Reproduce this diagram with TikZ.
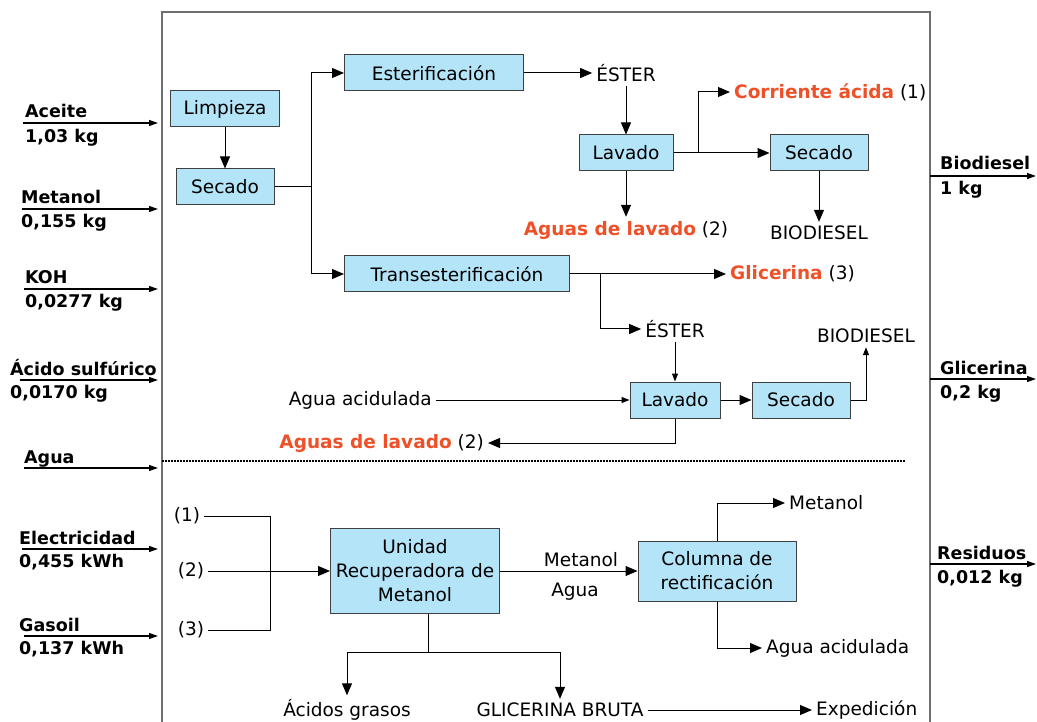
\documentclass[tikz,border=0pt]{standalone}
\usepackage{fontspec}
\setmainfont{DejaVu Sans}
\usetikzlibrary{arrows.meta,positioning}
\definecolor{boxblue}{RGB}{180,228,248}
\definecolor{acidred}{RGB}{238,80,40}
\definecolor{framegray}{RGB}{110,110,110}
\newcommand{\hot}[1]{\textcolor{acidred}{\bfseries #1}}

\begin{document}
\begin{tikzpicture}[x=1pt,y=-1pt,
    font=\fontsize{18.5}{24}\selectfont,
    proc/.style={draw=black!75,fill=boxblue,minimum height=36,inner sep=2,line width=1},
    flow/.style={-{Triangle[length=12,width=10]},line width=1},
    flowsmall/.style={-{Triangle[length=8,width=6]},line width=1},
    feed/.style={-{Triangle[length=9,width=6]},line width=1.2},
    lbl/.style={inner sep=4},
    side/.style={font=\fontsize{17.5}{20}\selectfont\bfseries,inner sep=0}]
  \useasboundingbox (0,0) rectangle (1037,722);

  % frame and separation
  \draw[framegray,line width=1.5] (162,722) -- (162,12) -- (930,12) -- (930,722);
  \draw[line width=1.5,dash pattern=on 1.5 off 1.5] (162,461) -- (906,461);

  % inputs
  \coordinate (aceA) at (23,123);   \coordinate (aceB) at (158,123);
  \coordinate (metA) at (22,209);   \coordinate (metB) at (158,209);
  \coordinate (kohA) at (24,289);   \coordinate (kohB) at (158,289);
  \coordinate (acsA) at (20,380);   \coordinate (acsB) at (158,380);
  \coordinate (aguA) at (24,468);   \coordinate (aguB) at (158,468);
  \coordinate (eleA) at (22,549);   \coordinate (eleB) at (158,549);
  \coordinate (gasA) at (24,636);   \coordinate (gasB) at (158,636);
  \draw[feed] (aceA) -- (aceB);
  \draw[feed] (metA) -- (metB);
  \draw[feed] (kohA) -- (kohB);
  \draw[feed] (acsA) -- (acsB);
  \draw[feed] (aguA) -- (aguB);
  \draw[feed] (eleA) -- (eleB);
  \draw[feed] (gasA) -- (gasB);
  \node[side,anchor=base west] (aceT) at (25,118) {Aceite};
  \node[side,anchor=north west] (aceV) at (25,129) {1,03 kg};
  \node[side,anchor=base west] (metT) at (21,204) {Metanol};
  \node[side,anchor=north west] (metV) at (21,214) {0,155 kg};
  \node[side,anchor=base west] (kohT) at (25,284) {KOH};
  \node[side,anchor=north west] (kohV) at (25,294) {0,0277 kg};
  \node[side,anchor=base west] (acsT) at (10,375) {Ácido sulfúrico};
  \node[side,anchor=north west] (acsV) at (10,385) {0,0170 kg};
  \node[side,anchor=base west] (aguT) at (24,463) {Agua};
  \node[side,anchor=base west] (eleT) at (19,544) {Electricidad};
  \node[side,anchor=north west] (eleV) at (19,554) {0,455 kWh};
  \node[side,anchor=base west] (gasT) at (19,631) {Gasoil};
  \node[side,anchor=north west] (gasV) at (19,641) {0,137 kWh};

  % outputs
  \coordinate (bioA) at (930,176);  \coordinate (bioB) at (1036,176);
  \coordinate (glA) at (930,379);   \coordinate (glB) at (1036,379);
  \coordinate (resA) at (930,564);  \coordinate (resB) at (1036,564);
  \draw[feed] (bioA) -- (bioB);
  \draw[feed] (glA) -- (glB);
  \draw[feed] (resA) -- (resB);
  \node[side,anchor=base west] (bioT) at (940,170) {Biodiesel};
  \node[side,anchor=north west] (bioV) at (940,181) {1 kg};
  \node[side,anchor=base west] (glT) at (940,374) {Glicerina};
  \node[side,anchor=north west] (glV) at (940,385) {0,2 kg};
  \node[side,anchor=base west] (resT) at (937,559) {Residuos};
  \node[side,anchor=north west] (resV) at (937,570) {0,012 kg};

  % process boxes
  \node[proc,minimum width=109] (limp) at (225,109) {Limpieza};
  \node[proc,minimum width=98] (sec1) at (225,187) {Secado};
  \node[proc,minimum width=179] (ester) at (434,73) {Esterificación};
  \node[proc,minimum width=94] (lav1) at (626,153) {Lavado};
  \node[proc,minimum width=98] (sec2) at (819,153) {Secado};
  \node[proc,minimum width=225] (trans) at (457,274) {Transesterificación};
  \node[proc,minimum width=90] (lav2) at (675,400) {Lavado};
  \node[proc,minimum width=98] (sec3) at (801,400) {Secado};
  \node[proc,minimum width=169,minimum height=85,align=center] (urm) at (415,571) {Unidad\\Recuperadora de\\Metanol};
  \node[proc,minimum width=158,minimum height=60,align=center] (col) at (717,571) {Columna de\\rectificación};

  % stream labels
  \node[lbl] (est1) at (626,73) {ÉSTER};
  \node[lbl,anchor=west] (corr) at (730,92) {\hot{Corriente ácida} (1)};
  \node[lbl] (aguas1) at (626,230) {\hot{Aguas de lavado} (2)};
  \node[lbl] (bio1) at (819,233) {BIODIESEL};
  \node[lbl,anchor=west] (glic) at (726,274) {\hot{Glicerina} (3)};
  \node[lbl] (est2) at (675,329) {ÉSTER};
  \node[lbl] (bio2) at (866,336) {BIODIESEL};
  \node[lbl,anchor=east] (agac) at (436,400) {Agua acidulada};
  \node[lbl,anchor=east] (aguas2) at (488,443) {\hot{Aguas de lavado} (2)};
  \node[lbl] (n1) at (187,516) {(1)};
  \node[lbl] (n2) at (191,571) {(2)};
  \node[lbl] (n3) at (191,630) {(3)};
  \node[lbl] (lmet) at (581,560) {Metanol};
  \node[lbl] (lagu) at (575,592) {Agua};
  \node[lbl,anchor=west] (meout) at (785,503) {Metanol};
  \node[lbl,anchor=west] (agout) at (762,648) {Agua acidulada};
  \node[lbl] (acg) at (347,710) {Ácidos grasos};
  \node[lbl] (glb) at (560,710) {GLICERINA BRUTA};
  \node[lbl,anchor=west] (exped) at (812,710) {Expedición};

  % upper section
  \coordinate (split1) at (311,187);
  \draw[flow] (limp) -- (sec1);
  \draw[line width=1] (sec1) -- (split1);
  \draw[flow] (split1) |- (ester.west);
  \draw[flow] (split1) |- (trans.west);
  \draw[flow] (ester) -- (est1);
  \draw[flow] (est1) -- (lav1);
  \coordinate (br1) at (698,153);
  \draw[flow] (lav1) -- (sec2);
  \draw[flow] (br1) |- (corr.west);
  \draw[flow] (lav1) -- (aguas1);
  \draw[flow] (sec2) -- (bio1);
  \coordinate (br2) at (600,274);
  \draw[flow] (trans) -- (glic.west);
  \draw[flow] (br2) |- (est2.west);
  \draw[flowsmall] (est2) -- (lav2);
  \draw[flowsmall] (agac) -- (lav2);
  \draw[flow] (lav2) -- (sec3);
  \draw[flowsmall] (sec3.east) -| (bio2.south);
  \draw[flow] (lav2.south) |- (aguas2.east);

  % lower section
  \coordinate (mrg) at (270,571);
  \draw[line width=1] (n1.east) -| (mrg);
  \draw[line width=1] (n3.east) -| (mrg);
  \draw[flow] (n2) -- (urm);
  \draw[flow] (urm) -- (col);
  \draw[flow] (col.north) |- (meout.west);
  \draw[flow] (col.south) |- (agout.west);
  \coordinate (spl3) at (428,652);
  \draw[line width=1] (spl3 |- urm.south) -- (spl3);
  \draw[flow] (spl3) -| (acg.north);
  \draw[flow] (spl3) -| (glb.north);
  \draw[flow] (glb) -- (exped);
\end{tikzpicture}
\end{document}
